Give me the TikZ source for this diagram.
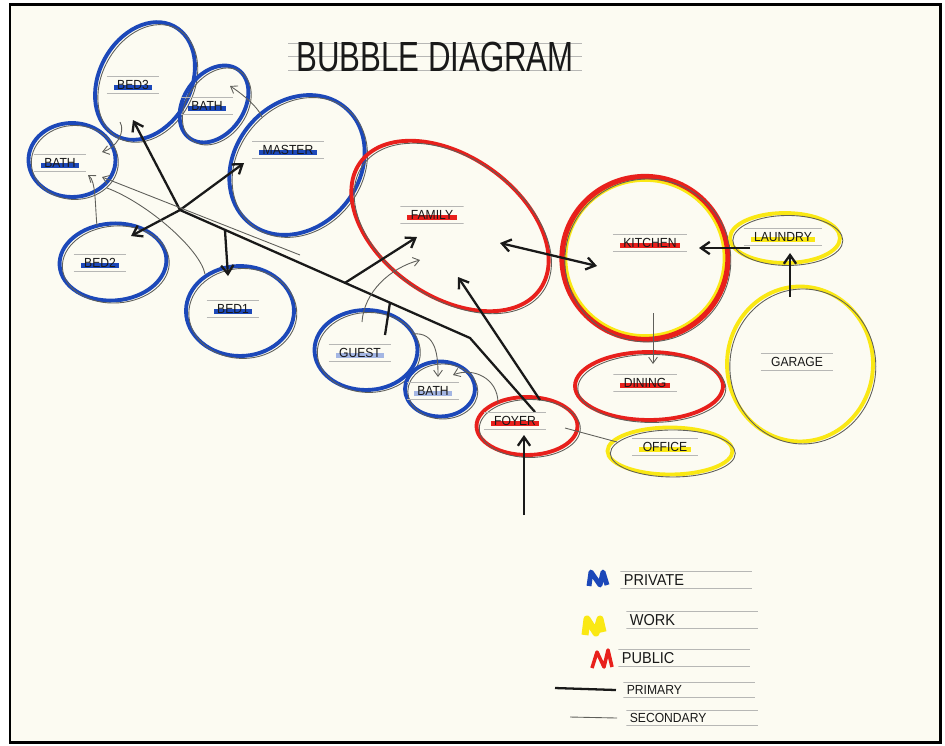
\documentclass[tikz,border=0pt]{standalone}
\usepackage{fontspec}
\setmainfont{Liberation Sans}
\newfontfamily\hand[FakeStretch=0.92]{Liberation Sans}
\newfontfamily\titlehand[FakeStretch=0.74]{Liberation Sans}
\usepackage{tikz}
\usetikzlibrary{shapes.geometric, arrows.meta, calc}
\definecolor{paper}{RGB}{252,251,242}
\definecolor{mblue}{RGB}{28,72,185}
\definecolor{mred}{RGB}{232,32,28}
\definecolor{myellow}{RGB}{250,232,20}
\definecolor{pencil}{RGB}{95,95,90}
\definecolor{ink}{RGB}{25,25,25}
\tikzstyle{bubble} = [ellipse, inner sep=0pt, line width=2.2pt, postaction={draw=pencil, line width=0.5pt, transform canvas={shift={(1.6pt,-1.4pt)}}}]
\tikzstyle{private} = [bubble, draw=mblue]
\tikzstyle{public} = [bubble, draw=mred]
\tikzstyle{work} = [bubble, draw=myellow]
\tikzstyle{primary} = [line width=1.3pt, draw=ink, ->, >={Straight Barb[length=5pt,width=7pt]}]
\tikzstyle{secondary} = [line width=0.5pt, draw=pencil, ->, >={Straight Barb[length=3.5pt,width=5pt]}]
\tikzstyle{sketch} = [line width=0.5pt, draw=pencil]
\tikzstyle{guide} = [line width=0.35pt, draw=pencil!45]
\tikzset{
  lbl/.style={font=\hand\fontsize{7.5}{8}\selectfont, text=ink, inner xsep=6pt, inner ysep=2.5pt,
    path picture={
      \fill[#1] ([xshift=4pt,yshift=2.4pt]path picture bounding box.south west) rectangle ([xshift=-4pt,yshift=5.2pt]path picture bounding box.south east);
      \draw[guide] ([yshift=-0.4pt]path picture bounding box.north west) -- ([yshift=-0.4pt]path picture bounding box.north east)
        ([yshift=0.4pt]path picture bounding box.south west) -- ([yshift=0.4pt]path picture bounding box.south east);
    }},
  legtext/.style={anchor=west, font=\hand\fontsize{#1}{#1}\selectfont, text=ink, inner xsep=2pt, inner ysep=2pt, text width=2.5cm,
    path picture={
      \draw[guide] ([yshift=-0.4pt]path picture bounding box.north west) -- ([yshift=-0.4pt]path picture bounding box.north east)
        ([yshift=0.6pt]path picture bounding box.south west) -- ([yshift=0.6pt]path picture bounding box.south east);
    }}
}

\begin{document}
\begin{tikzpicture}[x=0.02cm, y=-0.02cm]
    \useasboundingbox (0,0) rectangle (945,745);
    \fill[white] (0,0) rectangle (945,745);
    \draw[line width=1.7pt, fill=paper] (10,4) rectangle (940,742);

    % title
    \draw[guide] (288,43) -- (582,43) (288,56) -- (582,56) (288,70) -- (582,70);
    \node (title) [font=\titlehand\fontsize{24}{26}\selectfont, text=ink] at (435,57) {BUBBLE DIAGRAM};

    % bubbles
    \node (bedthree) [private, minimum width=2.48cm, minimum height=1.84cm, rotate=62] at (145,81) {};
    \node (bathtop) [private, minimum width=1.68cm, minimum height=1.2cm, rotate=55] at (214,104) {};
    \node (master) [private, minimum width=3cm, minimum height=2.48cm, rotate=50] at (297,165) {};
    \node (bathleft) [private, minimum width=1.74cm, minimum height=1.48cm] at (72,160) {};
    \node (bedtwo) [private, minimum width=2.14cm, minimum height=1.54cm, rotate=4] at (113,262) {};
    \node (bedone) [private, minimum width=2.16cm, minimum height=1.8cm] at (240,311) {};
    \node (guest) [private, minimum width=2.06cm, minimum height=1.6cm] at (366,350) {};
    \node (bathlow) [private, minimum width=1.4cm, minimum height=1.1cm] at (440,389) {};
    \node (family) [public, minimum width=4.4cm, minimum height=2.8cm, rotate=-35] at (450,226) {};
    \node (kitchen) [public, line width=3pt, minimum width=3.32cm, minimum height=3.26cm,
        path picture={\draw[myellow, line width=6pt] (path picture bounding box.center) ellipse [x radius=1.66cm, y radius=1.63cm];}] at (645,258) {};
    \node (dining) [public, minimum width=2.96cm, minimum height=1.36cm] at (649,386) {};
    \node (foyer) [public, minimum width=2.02cm, minimum height=1.16cm] at (527,426) {};
    \node (laundry) [work, minimum width=2.2cm, minimum height=1cm] at (785,238) {};
    \node (garage) [work, minimum width=2.92cm, minimum height=3.1cm] at (800,364) {};
    \node (office) [work, minimum width=2.5cm, minimum height=0.94cm] at (670,451) {};

    % primary
    \coordinate (hub) at (180,210);
    \coordinate (bend) at (470,338);
    \coordinate (entry) at (524,515);
    \draw[primary] (hub) -- ($(bedthree)+(-12,39)$);
    \draw[primary] (hub) -- ($(master)+(-53,-2)$);
    \draw[primary] (hub) -- ($(bedtwo)+(18,-26)$);
    \draw[primary, -] (hub) -- (bend) -- ($(foyer)+(8,-14)$);
    \draw[primary] ($(hub)!0.155!(bend)$) -- ($(bedone)+(-12,-35)$);
    \draw[primary] ($(hub)!0.569!(bend)$) -- ($(family)+(-33,11)$);
    \draw[primary, -] ($(guest)+(19,-15)$) -- ($(hub)!0.724!(bend)$);
    \draw[primary] ($(foyer)+(13,-26)$) -- ($(family)+(8,51)$);
    \draw[primary, <->] ($(family)+(50,17)$) -- ($(kitchen)+(-48,8)$);
    \draw[primary] ($(laundry)+(-35,10)$) -- ($(kitchen)+(54,-10)$);
    \draw[primary] ($(garage)+(-10,-67)$) -- ($(laundry)+(5,15)$);
    \draw[primary] (entry) -- ($(foyer)+(-3,9)$);

    % secondary
    \coordinate (tcorr) at (300,255);
    \draw[secondary] ($(bedthree)+(-25,41)$) .. controls +(6,10) and +(14,-4) .. ($(bathleft)+(30,-8)$);
    \draw[secondary] ($(master)+(-35,-48)$) .. controls +(-5,-12) and +(8,5) .. ($(bathtop)+(16,-18)$);
    \draw[secondary] ($(bedtwo)+(-16,-36)$) .. controls +(-2,-20) and +(8,6) .. ($(bathleft)+(16,15)$);
    \draw[secondary] (tcorr) -- ($(bathleft)+(30,17)$);
    \draw[sketch] ($(bedone)+(-35,-37)$) .. controls +(-5,-25) and +(40,15) .. ($(bathleft)+(35,28)$);
    \draw[secondary] ($(guest)+(-4,-28)$) .. controls +(2,-30) and +(-30,8) .. ($(family)+(-30,34)$);
    \draw[secondary] ($(guest)+(46,-16)$) .. controls +(25,-3) and +(0,-20) .. ($(bathlow)+(-2,-12)$);
    \draw[secondary] ($(foyer)+(-29,-23)$) .. controls +(0,-25) and +(20,-8) .. ($(bathlow)+(13,-14)$);
    \draw[sketch] ($(foyer)+(38,2)$) -- ($(office)+(-53,-9)$);
    \draw[secondary] ($(kitchen)+(8,55)$) -- ($(dining)+(4,-22)$);

    % labels
    \node (bedthreeL) [lbl=mblue] at (133,85) {BED3};
    \node (bathtopL) [lbl=mblue] at (207,106) {BATH};
    \node (masterL) [lbl=mblue] at (288,150) {MASTER};
    \node (bathleftL) [lbl=mblue] at (60,163) {BATH};
    \node (bedtwoL) [lbl=mblue] at (100,263) {BED2};
    \node (bedoneL) [lbl=mblue] at (233,309) {BED1};
    \node (guestL) [lbl=mblue!40] at (360,353) {GUEST};
    \node (bathlowL) [lbl=mblue!40] at (433,391) {BATH};
    \node (familyL) [lbl=mred] at (432,215) {FAMILY};
    \node (kitchenL) [lbl=mred] at (650,243) {KITCHEN};
    \node (diningL) [lbl=mred] at (645,383) {DINING};
    \node (foyerL) [lbl=mred] at (515,421) {FOYER};
    \node (laundryL) [lbl=myellow] at (783,237) {LAUNDRY};
    \node (garageL) [lbl=paper] at (797,362) {GARAGE};
    \node (officeL) [lbl=myellow] at (665,447) {OFFICE};

    % legend
    \draw[mblue, line width=2.8pt, line join=round] (589,586) -- (591,572) -- (600,585) -- (603,572) -- (607,585);
    \draw[myellow, line width=4pt, line join=round] (585,635) -- (587,619) -- (596,633) -- (600,619) -- (603,632);
    \draw[mred, line width=2pt, line join=round] (592,668) -- (597,652) -- (604,667) -- (608,650) -- (612,667);
    \node (privateT) [legtext=9] at (620,580) {PRIVATE};
    \node (workT) [legtext=9] at (626,620) {WORK};
    \node (publicT) [legtext=9] at (618,658) {PUBLIC};
    \node (primaryT) [legtext=7.5] at (623,690) {PRIMARY};
    \node (secondaryT) [legtext=7.5] at (626,718) {SECONDARY};
    \coordinate (primA) at (555,688);
    \coordinate (secA) at (570,717);
    \draw[line width=1.3pt, ink] (primA) -- ([xshift=-4pt]primaryT.west);
    \draw[sketch] (secA) -- ([xshift=-5pt]secondaryT.west);
\end{tikzpicture}
\end{document}
